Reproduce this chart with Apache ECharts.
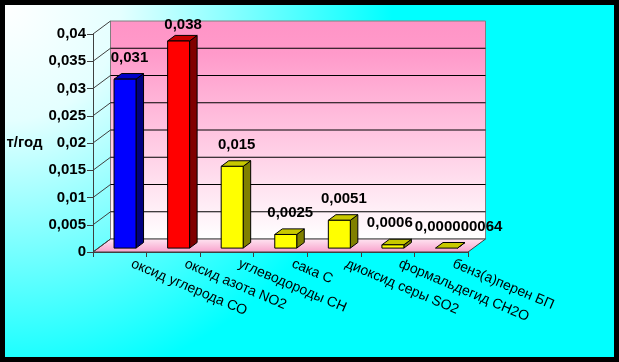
<!DOCTYPE html>
<html><head><meta charset="utf-8">
<script src="https://cdn.jsdelivr.net/npm/echarts@6/dist/echarts.min.js"></script>
<style>html,body{margin:0;padding:0;background:#000;}#c{width:619px;height:362px;}</style>
</head><body><div id="c"></div>
<script>
const categories = ['оксид углерода СО','оксид азота NO2','углеводороды СН','сака С','диоксид серы SO2','формальдегид СН2О','бенз(а)перен БП'];
const values = [0.031, 0.038, 0.015, 0.0025, 0.0051, 0.0006, 0.000000064];
const yTicks = [0, 0.005, 0.01, 0.015, 0.02, 0.025, 0.03, 0.035, 0.04];
const yName = 'т/год';

const faceColors = ['#0000FF','#FF0000','#FFFF00','#FFFF00','#FFFF00','#FFFF00','#FFFF00'];
const sideColors = ['#000080','#800000','#808000','#808000','#808000','#808000','#808000'];
const topColors  = ['#0000C8','#C80000','#C8C800','#C8C800','#C8C800','#C8C800','#C8C800'];

const DX = 17.5, DY = -13;           // depth vector of the 3D box
const F0 = 0.30, F1 = 0.73;          // bar depth range (fraction of depth)
const BAR_W = 0.41;                  // bar width, fraction of band
const LABEL_FONT = 'bold 15px "Liberation Sans"';

function fmt(v){
  let s = v.toFixed(9).replace(/0+$/,'').replace(/\.$/,'');
  return s.replace('.', ',');
}
const measureCtx = document.createElement('canvas').getContext('2d');
measureCtx.font = LABEL_FONT;
const labelTexts = values.map(fmt);
const labelWidths = labelTexts.map(t => measureCtx.measureText(t).width);

// horizontal label layout: centre over bar, then push neighbours apart if overlapping
function labelXs(api){
  const band = api.size([1, 0])[0];
  const xs = values.map((v, i) => api.coord([i, v])[0] + DX*F0 + 4.5);
  const ys = values.map((v, i) => api.coord([i, v])[1]);
  for (let k = 0; k < 3; k++) {
    for (let i = 0; i < xs.length - 1; i++) {
      if (Math.abs(ys[i] - ys[i+1]) > 16) continue;
      const gap = (xs[i+1] - labelWidths[i+1]/2) - (xs[i] + labelWidths[i]/2) - 2;
      if (gap < 0) { xs[i] += gap/2; xs[i+1] -= gap/2; }
    }
  }
  return xs;
}

const chart = echarts.init(document.getElementById('c'), null, {renderer:'canvas'});

const option = {
  animation: false,
  backgroundColor: '#000',
  textStyle: {fontFamily: 'Liberation Sans'},
  graphic: [{
    type: 'rect', z: -10, silent: true,
    shape: {x: 5, y: 5, width: 609, height: 352},
    style: {fill: {type:'radial', x:0, y:0, r:1.1, colorStops:[
      {offset:0, color:'#ffffff'}, {offset:0.3, color:'#e4ffff'}, {offset:1, color:'#00ffff'}]}}
  }],
  grid: {left: 93, top: 34, width: 375, height: 218},
  xAxis: {
    type: 'category', data: categories,
    axisLine: {show: true, lineStyle: {color: '#404040', width: 1}},
    axisTick: {show: true, length: 5, lineStyle: {color: '#404040'}},
    axisLabel: {rotate: -23, margin: 6, padding: [0,0,0,13], fontSize: 14, color: '#000', interval: 0}
  },
  yAxis: {
    type: 'value', min: 0, max: 0.04, interval: 0.005,
    name: yName, nameLocation: 'middle', nameRotate: 0, nameGap: 50,
    nameTextStyle: {fontSize: 15, fontWeight: 'bold', color: '#000'},
    axisLine: {show: true, lineStyle: {color: '#404040'}},
    axisTick: {show: true, length: 6, lineStyle: {color: '#404040'}},
    splitLine: {show: false},
    axisLabel: {margin: 7, fontSize: 15, fontWeight: 'bold', color: '#000',
      formatter: v => String(v).replace('.', ',')}
  },
  series: [
    { // back wall + floor
      type: 'custom', z: 1, silent: true,
      data: [[0, 0]],
      renderItem: function(params, api){
        const cs = params.coordSys;
        const x0 = cs.x, x1 = cs.x + cs.width, yb = cs.y + cs.height, yt = cs.y;
        return {type:'group', children:[
          {type:'rect', shape:{x:x0+DX, y:yt+DY, width:cs.width, height:cs.height},
            style:{fill:{type:'linear',x:0,y:0,x2:0,y2:1,colorStops:[
              {offset:0,color:'#FF94C6'},{offset:0.15,color:'#FF9ACA'},{offset:1,color:'#FFFFFF'}]},
              stroke:'#808080', lineWidth:1}},
          {type:'polygon', shape:{points:[[x0,yb],[x1,yb],[x1+DX,yb+DY],[x0+DX,yb+DY]]},
            style:{fill:{type:'linear',x:0,y:0,x2:0,y2:1,colorStops:[
              {offset:0,color:'#FFE6F2'},{offset:1,color:'#F7A0CB'}]},
              stroke:'#404040', lineWidth:1}}
        ]};
      }
    },
    { // gridlines on back wall and left wall
      type: 'custom', z: 2, silent: true,
      data: yTicks.map(v => [0, v]),
      renderItem: function(params, api){
        const cs = params.coordSys;
        const y = api.coord([0, api.value(1)])[1];
        const x0 = cs.x, x1 = cs.x + cs.width;
        const ch = [
          {type:'line', shape:{x1:x0, y1:y, x2:x0+DX, y2:y+DY}, style:{stroke:'#404040', lineWidth:1}}
        ];
        if (api.value(1) > 0 && api.value(1) < 0.04) {
          ch.push({type:'line', shape:{x1:x0+DX, y1:y+DY, x2:x1+DX, y2:y+DY}, style:{stroke:'#000', lineWidth:1}});
        }
        return {type:'group', children: ch};
      }
    },
    { // 3D bars
      type: 'custom', z: 3,
      data: values.map((v, i) => [i, v]),
      renderItem: function(params, api){
        const i = api.value(0), v = api.value(1);
        const band = api.size([1, 0])[0];
        const pTop = api.coord([i, v]);
        const pBot = api.coord([i, 0]);
        const w = band * BAR_W;
        const fx = pTop[0] - w/2 + DX*F0, fy = DY*F0;
        const top = pTop[1] + fy, bot = pBot[1] + fy;
        const sx = DX*(F1-F0), sy = DY*(F1-F0);
        const lw = {stroke:'#000', lineWidth:1, lineJoin:'round'};
        const ch = [
          {type:'polygon', shape:{points:[[fx+w,top],[fx+w+sx,top+sy],[fx+w+sx,bot+sy],[fx+w,bot]]},
            style:Object.assign({fill:sideColors[i]}, lw)},
          {type:'polygon', shape:{points:[[fx,top],[fx+sx,top+sy],[fx+w+sx,top+sy],[fx+w,top]]},
            style:Object.assign({fill:topColors[i]}, lw)}
        ];
        if (bot - top > 0.5) {
          ch.push({type:'rect', shape:{x:fx, y:top, width:w, height:bot-top},
            style:Object.assign({fill:faceColors[i]}, lw)});
        }
        const minY = api.coord([0, 0.04])[1] - 9;
        const lx = labelXs(api)[i];
        ch.push({type:'text', x: lx, y: Math.max(top - 21.5, minY),
          style:{text: labelTexts[i], font: LABEL_FONT,
            fill:'#000', align:'center', verticalAlign:'middle'}});
        return {type:'group', children: ch};
      }
    }
  ]
};
chart.setOption(option);
</script>
</body></html>
